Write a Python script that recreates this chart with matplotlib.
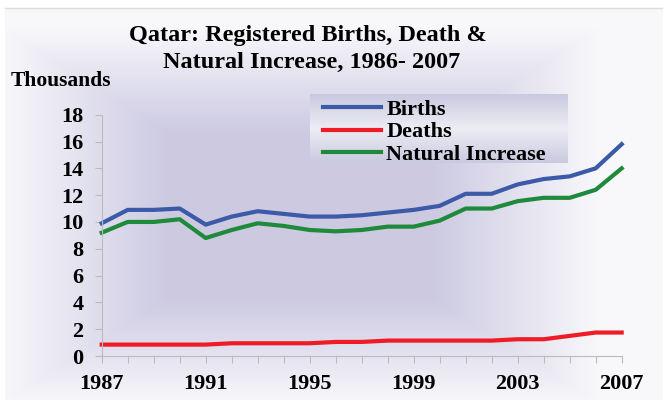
import numpy as np
import matplotlib.pyplot as plt
from matplotlib.lines import Line2D

plt.rcParams["font.family"] = ["Liberation Serif", "DejaVu Serif"]
plt.rcParams["font.weight"] = "bold"

years = list(range(1987, 2008))
births = [9.9, 10.9, 10.9, 11.0, 9.8, 10.4, 10.8, 10.6, 10.4, 10.4, 10.5,
          10.7, 10.9, 11.2, 12.1, 12.1, 12.8, 13.2, 13.4, 14.0, 15.8]
deaths = [0.85, 0.85, 0.85, 0.85, 0.85, 0.95, 0.95, 0.95, 0.95, 1.05, 1.05,
          1.15, 1.15, 1.15, 1.15, 1.15, 1.25, 1.25, 1.5, 1.75, 1.75]
natural = [9.2, 10.0, 10.0, 10.2, 8.8, 9.4, 9.9, 9.7, 9.4, 9.3, 9.4,
           9.65, 9.65, 10.1, 11.0, 11.0, 11.55, 11.8, 11.8, 12.4, 14.0]
series_names = ["Births", "Deaths", "Natural Increase"]
series_colors = ["#3c5aa8", "#ee1c25", "#1f8a3b"]
y_ticks = [0, 2, 4, 6, 8, 10, 12, 14, 16, 18]
x_labels = [1987, 1991, 1995, 1999, 2003, 2007]

W, H = 668, 405
fig = plt.figure(figsize=(W / 100, H / 100), dpi=100)
fig.patch.set_facecolor("white")

# background: box shaped lavender gradient, white margin
bg = fig.add_axes([0, 0, 1, 1], zorder=0)
yy, xx = np.mgrid[0:H, 0:W]
d = np.maximum(np.abs(xx - 300) / 310, np.abs(yy - 215) / 195)
t = np.clip((d - 0.42) / 0.55, 0, 1)
center = np.array([0.80, 0.79, 0.885])
edge = np.array([0.975, 0.975, 0.985])
img = center + (edge - center) * t[..., None]
mask = (xx < 5) | (xx > 662) | (yy < 8) | (yy > 399)
img[mask] = 1.0
bg.imshow(img, extent=[0, W, H, 0], aspect="auto")

# legend box gradient (dark - light - dark, top to bottom)
ly = np.linspace(-1, 1, 70)
lt = np.abs(ly)[:, None] * np.ones((1, 10))
lc_dark = np.array([0.79, 0.79, 0.88])
lc_light = np.array([0.93, 0.93, 0.96])
limg = lc_light + (lc_dark - lc_light) * lt[..., None]
bg.imshow(limg, extent=[310, 568, 163, 94], aspect="auto")
bg.plot([5, 662], [7.5, 7.5], color="#dddddd", lw=1)
bg.set_xlim(0, W)
bg.set_ylim(H, 0)
bg.axis("off")

ax = fig.add_axes([101.7 / W, (H - 356) / H, 520 / W, 241.3 / H], zorder=1)
ax.patch.set_alpha(0)
for vals, color in zip([births, deaths, natural], series_colors):
    ax.plot(years, vals, color=color, lw=3, clip_on=False, solid_joinstyle="round")

ax.set_xlim(1987, 2007)
ax.set_ylim(0, 18)
ax.set_yticks(y_ticks)
ax.set_xticks(years)
ax.set_xticklabels([str(y) if y in x_labels else "" for y in years])
ax.tick_params(axis="both", length=5, color="#bbbbbb", labelsize=16, pad=8)
for side in ["top", "right"]:
    ax.spines[side].set_visible(False)
for side in ["left", "bottom"]:
    ax.spines[side].set_color("#bbbbbb")
    ax.spines[side].set_linewidth(0.8)

fig.text(308 / W, 1 - 35 / H, "Qatar: Registered Births, Death &",
         ha="center", va="center", fontsize=17.5, fontweight="bold")
fig.text(312 / W, 1 - 62 / H, "Natural Increase, 1986- 2007",
         ha="center", va="center", fontsize=17.5, fontweight="bold")
fig.text(11 / W, 1 - 81 / H, "Thousands", ha="left", va="center",
         fontsize=15.5, fontweight="bold")

handles = [Line2D([], [], color=c, lw=3) for c in series_colors]
fig.legend(handles, series_names, loc="upper left",
           bbox_to_anchor=(323 / W, 1 - 99 / H), frameon=False,
           fontsize=16, handlelength=2.6, handletextpad=0.25,
           labelspacing=0.1, borderpad=0, borderaxespad=0)

fig.savefig("out.png", dpi=100)
